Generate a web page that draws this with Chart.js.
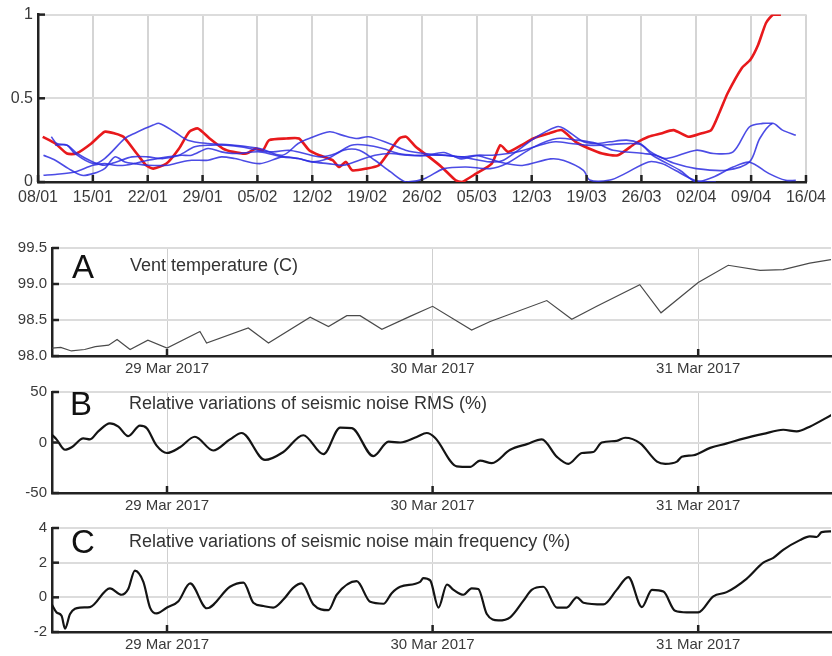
<!DOCTYPE html>
<html>
<head>
<meta charset="utf-8">
<script src="https://cdn.jsdelivr.net/npm/chart.js@4/dist/chart.umd.min.js"></script>
<style>
  body { margin: 0; background: #fff; }
  #wrap { position: relative; width: 832px; height: 656px; overflow: hidden; background: #fff; }
  canvas { position: absolute; left: 0; }
  .lbl { position: absolute; font-family: "Liberation Sans", Arial, sans-serif; color: #222; white-space: nowrap; }
  .big { font-size: 33px; line-height: 33px; color: #111; }
  .txt { font-size: 18px; line-height: 18px; color: #333; }
</style>
</head>
<body>
<div id="wrap">
  <canvas id="top" width="832" height="215" style="top:0px"></canvas>
  <canvas id="pa" width="832" height="148" style="top:232px"></canvas>
  <canvas id="pb" width="832" height="142" style="top:378px"></canvas>
  <canvas id="pc" width="832" height="142" style="top:514px"></canvas>
  <div class="lbl big" style="left:72px; top:250px">A</div>
  <div class="lbl txt" style="left:130px; top:256px">Vent temperature (C)</div>
  <div class="lbl big" style="left:70px; top:387px">B</div>
  <div class="lbl txt" style="left:129px; top:394px">Relative variations of seismic noise RMS (%)</div>
  <div class="lbl big" style="left:71px; top:525px">C</div>
  <div class="lbl txt" style="left:129px; top:532px">Relative variations of seismic noise main frequency (%)</div>
</div>
<script>
// top panel: days since 08/01
const weekLabels = ['08/01','15/01','22/01','29/01','05/02','12/02','19/02','26/02','05/03','12/03','19/03','26/03','02/04','09/04','16/04'];
const weekTicks = [0,7,14,21,28,35,42,49,56,63,70,77,84,91,98];

const redDay = [0.6,2.2,3.7,4.9,6.8,8.5,9.8,10.9,12.6,13.8,14.7,16.4,18.0,19.3,20.4,21.9,23.6,24.9,26.6,27.8,28.7,29.5,31.7,33.3,34.6,35.9,37.6,38.4,39.3,40.1,41.9,43.5,44.8,46.1,47.0,48.2,49.9,51.5,53.3,54.1,55.9,57.9,59.0,60.0,61.7,63.2,65.2,66.8,68.6,70.3,72.0,74.0,76.2,77.9,79.5,81.1,83.0,84.6,85.9,87.0,88.0,89.8,90.9,91.9,92.9,93.8,94.8];
const redVal = [0.27,0.23,0.17,0.17,0.23,0.30,0.29,0.27,0.17,0.10,0.08,0.11,0.20,0.30,0.32,0.26,0.20,0.18,0.17,0.20,0.19,0.25,0.26,0.26,0.19,0.16,0.13,0.09,0.12,0.07,0.08,0.10,0.18,0.26,0.27,0.21,0.15,0.09,0.01,0.00,0.05,0.11,0.22,0.18,0.22,0.26,0.29,0.31,0.24,0.20,0.17,0.16,0.23,0.27,0.29,0.31,0.27,0.29,0.31,0.42,0.53,0.68,0.73,0.82,0.95,1.00,1.00];

const blueQDay = [1.7,2.4,3.7,4.7,7.0,8.5,11.1,12.3,14.7,15.5,17.4,19.1,21.7,25.1,28.3,31.2,33.2,34.6,37.2,38.8,40.6,42.2,44.8,46.9,49.3,54.0,57.7,59.4,63.3,66.2,67.1,69.6,71.3,73.0,75.1,76.8,78.5,80.2,84.0,86.2,88.7,90.8,92.5,93.7];
const blueQVal = [0.27,0.23,0.22,0.17,0.11,0.14,0.26,0.29,0.34,0.35,0.30,0.25,0.23,0.22,0.20,0.16,0.23,0.26,0.30,0.28,0.26,0.27,0.23,0.19,0.17,0.15,0.12,0.13,0.26,0.33,0.32,0.24,0.23,0.24,0.25,0.23,0.17,0.14,0.19,0.17,0.18,0.33,0.35,0.35];

const blueRDay = [0.7,2.2,3.9,5.6,7.0,8.5,9.8,11.1,12.3,14.0,16.6,18.3,19.6,21.7,23.4,25.1,28.3,31.2,33.2,35.0,37.0,39.0,41.0,43.0,45.0,47.0,49.3,51.8,54.6,57.7,59.8,63.3,66.2,68.8,71.3,73.4,77.3,78.8,81.3,84.0,87.8,90.8,92.1,93.7,95.0,96.7];
const blueRVal = [0.16,0.13,0.08,0.04,0.05,0.08,0.15,0.12,0.11,0.10,0.10,0.12,0.13,0.13,0.15,0.14,0.11,0.15,0.14,0.12,0.14,0.19,0.19,0.13,0.06,0.00,0.02,0.08,0.09,0.08,0.11,0.21,0.26,0.25,0.23,0.19,0.17,0.16,0.11,0.08,0.07,0.12,0.26,0.35,0.31,0.28];

const blueSDay = [0.7,2.2,4.7,7.0,8.5,9.8,11.1,12.3,14.0,16.6,18.3,19.6,21.7,23.4,25.1,28.3,31.2,33.2,35.0,37.0,39.0,41.0,43.0,45.0,47.0,49.3,51.8,54.0,56.0,59.0,61.8,65.4,67.1,69.6,70.4,73.0,74.9,77.9,79.6,81.3,83.8,85.5,86.5];
const blueSVal = [0.04,0.045,0.06,0.10,0.11,0.10,0.10,0.11,0.13,0.15,0.16,0.16,0.20,0.18,0.17,0.18,0.15,0.14,0.12,0.11,0.10,0.13,0.16,0.17,0.16,0.157,0.176,0.138,0.157,0.118,0.099,0.138,0.128,0.07,0.012,0.012,0.05,0.12,0.11,0.07,0.01,0.0,0.0];

const blueTDay = [2.2,3.7,5.0,7.0,8.5,10,12,14,16,18,20,22,24,26,28,30,32,34,36,38,40,42,44,46,48,50,52,54,56,58,60,62,64,66,68,70,72,73.4,76.8,78.5,81.9,84.0,86.2,88.7,90.8,93.3,95.4,96.7];
const blueTVal = [0.22,0.22,0.17,0.12,0.10,0.12,0.15,0.15,0.14,0.16,0.21,0.22,0.22,0.21,0.19,0.18,0.19,0.17,0.15,0.17,0.22,0.22,0.20,0.17,0.16,0.16,0.16,0.15,0.16,0.16,0.17,0.19,0.22,0.24,0.23,0.22,0.22,0.225,0.225,0.157,0.07,0.0,0.03,0.089,0.118,0.05,0.01,0.01];

// lower panels: days since 29 Mar 2017 00:00
const dateLabels = ['29 Mar 2017','30 Mar 2017','31 Mar 2017'];
const dateTicks = [0,1,2];

const tempDay = [-0.433,-0.40,-0.36,-0.31,-0.27,-0.22,-0.188,-0.139,-0.072,0.0,0.124,0.149,0.306,0.382,0.539,0.608,0.677,0.727,0.809,0.915,1.0,1.147,1.217,1.43,1.524,1.618,1.78,1.86,2.0,2.113,2.233,2.32,2.42,2.5];
const tempVal = [98.11,98.12,98.07,98.09,98.13,98.15,98.23,98.09,98.22,98.11,98.34,98.18,98.39,98.18,98.54,98.41,98.56,98.56,98.37,98.55,98.69,98.36,98.48,98.77,98.51,98.69,98.99,98.60,99.02,99.26,99.19,99.20,99.29,99.34];

const rmsDay = [-0.434,-0.416,-0.384,-0.359,-0.315,-0.29,-0.259,-0.215,-0.183,-0.146,-0.102,-0.076,-0.039,0,0.049,0.105,0.174,0.237,0.281,0.369,0.438,0.513,0.589,0.652,0.696,0.777,0.834,0.878,0.94,0.978,1.009,1.091,1.141,1.179,1.223,1.292,1.355,1.411,1.468,1.511,1.562,1.605,1.637,1.693,1.725,1.782,1.845,1.876,1.92,1.938,1.982,2.045,2.108,2.17,2.245,2.32,2.371,2.42,2.503];
const rmsVal = [7.8,3.1,-7.2,-4.7,4.1,3.1,11,18.9,15.7,6.3,16.7,14.2,-3.1,-10.4,-4.7,5.7,-7.9,3.1,9.4,-17.3,-9.4,7.2,-11.6,14.8,14.2,-13.5,0.9,0,5.4,9.4,4.7,-23.6,-24.2,-17.9,-20.4,-7.2,-1.6,3.1,-14.2,-21.1,-10.4,-9.4,0,1.6,4.7,-0.9,-18.9,-21.1,-18.9,-14.2,-12.6,-5.3,-0.9,3.8,8.5,12.6,11,15.7,27.4];

const freqDay = [-0.434,-0.416,-0.397,-0.384,-0.365,-0.328,-0.29,-0.215,-0.171,-0.146,-0.121,-0.089,-0.064,-0.039,0,0.043,0.087,0.15,0.237,0.288,0.325,0.363,0.4,0.438,0.476,0.507,0.551,0.608,0.639,0.714,0.765,0.815,0.846,0.878,0.953,0.965,0.991,1.022,1.054,1.079,1.116,1.147,1.172,1.204,1.248,1.292,1.342,1.373,1.417,1.468,1.505,1.543,1.568,1.643,1.693,1.737,1.788,1.826,1.869,1.913,1.957,2.0,2.057,2.107,2.182,2.245,2.283,2.32,2.383,2.42,2.446,2.465,2.503];
const freqVal = [-0.41,-0.87,-1.06,-1.8,-0.96,-0.59,-0.56,0.52,0.15,0.48,1.54,0.89,-0.59,-0.93,-0.59,-0.22,0.80,-0.63,0.61,0.85,-0.31,-0.5,-0.59,-0.13,0.56,0.80,-0.41,-0.74,0.15,0.93,-0.26,-0.37,0.24,0.61,0.89,1.11,0.98,-0.59,0.74,0.43,0.15,0.52,0.48,-0.96,-1.33,-1.15,-0.19,0.43,0.61,-0.59,-0.59,0,-0.31,-0.41,0.43,1.17,-0.56,0.43,0.33,-0.78,-0.87,-0.87,0.06,0.30,1.07,2.0,2.28,2.74,3.30,3.52,3.48,3.76,3.81];

Chart.defaults.font.family = '"Liberation Sans", Arial, sans-serif';
Chart.defaults.color = '#3a3a3a';

function pts(days, vals) {
  return days.map((d, i) => ({ x: d, y: vals[i] }));
}

// small tick marks pointing into the plot
const innerTicks = {
  id: 'innerTicks',
  afterDraw(chart) {
    const { ctx, chartArea: a, scales } = chart;
    ctx.save();
    ctx.strokeStyle = '#222';
    ctx.lineWidth = 2.5;
    scales.x.ticks.forEach(t => {
      const p = scales.x.getPixelForValue(t.value);
      ctx.beginPath(); ctx.moveTo(p, a.bottom); ctx.lineTo(p, a.bottom - 7); ctx.stroke();
    });
    scales.y.ticks.forEach(t => {
      const p = scales.y.getPixelForValue(t.value);
      ctx.beginPath(); ctx.moveTo(a.left, p); ctx.lineTo(a.left + 7, p); ctx.stroke();
    });
    ctx.restore();
  }
};

function makeChart(id, datasets, o) {
  return new Chart(document.getElementById(id), {
    type: 'line',
    data: { datasets: datasets },
    plugins: [innerTicks],
    options: {
      responsive: false,
      animation: false,
      layout: { padding: { left: 0, right: o.right, top: o.top, bottom: 0 } },
      plugins: { legend: { display: false }, tooltip: { enabled: false } },
      elements: { point: { radius: 0 } },
      scales: {
        x: {
          type: 'linear', min: o.xmin, max: o.xmax,
          afterBuildTicks: s => { s.ticks = o.xticks.map(v => ({ value: v })); },
          afterFit: s => { s.height = o.bottom; },
          ticks: { autoSkip: false, maxRotation: 0, padding: o.xpad, font: { size: o.xfont },
                   callback: v => o.xlabels[o.xticks.indexOf(v)] },
          grid: { color: o.xgrid, lineWidth: o.xgridW, drawTicks: false },
          border: { color: '#222', width: 2.5 }
        },
        y: {
          min: o.ymin, max: o.ymax,
          afterBuildTicks: s => { s.ticks = o.yticks.map(v => ({ value: v })); },
          afterFit: s => { s.width = o.left; },
          ticks: { padding: 5, font: { size: o.yfont }, callback: v => o.ylabels[o.yticks.indexOf(v)] },
          grid: { color: '#dcdcdc', lineWidth: 2, drawTicks: false },
          border: { color: '#222', width: 2.5 }
        }
      }
    }
  });
}

const blue = 'rgba(45,45,225,0.85)';
function blueSet(d, v) {
  return { data: pts(d, v), borderColor: blue, borderWidth: 1.6, tension: 0.3 };
}

makeChart('top', [
  blueSet(blueQDay, blueQVal),
  blueSet(blueRDay, blueRVal),
  blueSet(blueSDay, blueSVal),
  blueSet(blueTDay, blueTVal),
  { data: pts(redDay, redVal), borderColor: '#e8191c', borderWidth: 2.6, tension: 0.2 }
], {
  left: 38, right: 22, top: 10, bottom: 33,
  xmin: 0, xmax: 98, xticks: weekTicks, xlabels: weekLabels, xpad: 6, xfont: 16,
  xgrid: '#d5d5d5', xgridW: 2,
  ymin: 0, ymax: 1, yticks: [0, 0.5, 1], ylabels: ['0', '0.5', '1'], yfont: 16
});

const lowerBase = {
  left: 52, right: 1, xmin: -0.433, xmax: 2.5, xticks: dateTicks, xlabels: dateLabels,
  xpad: 4, xfont: 15, xgrid: '#cfcfcf', xgridW: 1, yfont: 15
};

makeChart('pa', [
  { data: pts(tempDay, tempVal), borderColor: '#4a4a4a', borderWidth: 1.2, tension: 0 }
], Object.assign({}, lowerBase, {
  top: 16, bottom: 24, ymin: 98, ymax: 99.5,
  yticks: [98, 98.5, 99, 99.5], ylabels: ['98.0', '98.5', '99.0', '99.5']
}));

makeChart('pb', [
  { data: pts(rmsDay, rmsVal), borderColor: '#141414', borderWidth: 2.2, cubicInterpolationMode: 'monotone' }
], Object.assign({}, lowerBase, {
  top: 9, bottom: 27, ymin: -50, ymax: 50,
  yticks: [-50, 0, 50], ylabels: ['-50', '0', '50']
}));

makeChart('pc', [
  { data: pts(freqDay, freqVal), borderColor: '#141414', borderWidth: 2.2, cubicInterpolationMode: 'monotone' }
], Object.assign({}, lowerBase, {
  top: 10, bottom: 24, ymin: -2, ymax: 4,
  yticks: [-2, 0, 2, 4], ylabels: ['-2', '0', '2', '4']
}));
</script>
</body>
</html>
